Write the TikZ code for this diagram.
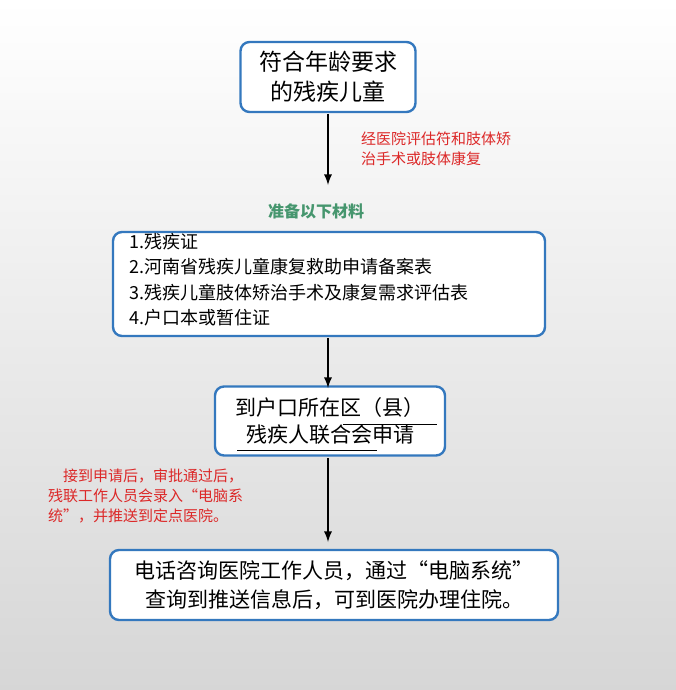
\documentclass[tikz,border=0pt]{standalone}
\usepackage{fontspec}
\newfontfamily\cjk{Noto Sans CJK SC}
\usetikzlibrary{positioning,shadings}
\definecolor{boxblue}{RGB}{52,120,190}
\definecolor{notered}{RGB}{220,40,40}
\definecolor{notegreen}{RGB}{70,150,110}
\tikzset{
  stepbox/.style={draw=boxblue, line width=2.4pt, rounded corners=9pt, fill=white, align=center, inner sep=0pt},
  flowarrow/.style={-latex, line width=2.6pt, black},
  note/.style={text=notered, font=\cjk\fontsize{15}{20}\selectfont, align=left, inner sep=0pt}
}
\begin{document}
\begin{tikzpicture}[x=1pt,y=-1pt]
  % Hintergrund
  \shade[top color=white, bottom color=black!16] (0,0) rectangle (676,690);
  \useasboundingbox (0,0) rectangle (676,690);

  % Kästen
  \node[stepbox, minimum width=175pt, minimum height=70pt, font=\cjk\fontsize{23}{30}\selectfont] (kind) at (328,77) {符合年龄要求\\的残疾儿童};
  \node[stepbox, minimum width=432pt, minimum height=104pt] (material) at (329,284) {};
  \node[anchor=north west, align=left, inner sep=0pt, font=\cjk\fontsize{18}{25.5}\selectfont] (liste) at (129,233)
    {1.残疾证\\2.河南省残疾儿童康复救助申请备案表\\3.残疾儿童肢体矫治手术及康复需求评估表\\4.户口本或暂住证};
  \node[stepbox, minimum width=230pt, minimum height=69pt, font=\cjk\fontsize{21}{27}\selectfont] (antrag) at (330,421) {到户口所在区（县）\\残疾人联合会申请};
  \node[stepbox, minimum width=448pt, minimum height=70pt, font=\cjk\fontsize{21}{29}\selectfont] (klinik) at (334,585) {电话咨询医院工作人员，通过“电脑系统”\\查询到推送信息后，可到医院办理住院。};

  % Unterstreichungen
  \draw[line width=0.8pt] (343,424) -- (437,424);
  \draw[line width=0.8pt] (237,450) -- (377,450);

  % Pfeile
  \draw[flowarrow] (328,114) -- (328,185);
  \draw[flowarrow] (328,338) -- (328,388);
  \draw[flowarrow] (328,458) -- (328,542);

  % Hinweise
  \node[note, anchor=north west] (pruefung) at (361,132) {经医院评估符和肢体矫\\治手术或肢体康复};
  \node[text=notegreen, font=\cjk\bfseries\fontsize{16}{18}\selectfont, inner sep=0pt] (vorbereiten) at (316,211) {准备以下材料};
  \node[note, anchor=north west] (system) at (48,469) {\hspace*{1em}接到申请后，审批通过后，\\残联工作人员会录入“电脑系\\统”，并推送到定点医院。};
\end{tikzpicture}
\end{document}
